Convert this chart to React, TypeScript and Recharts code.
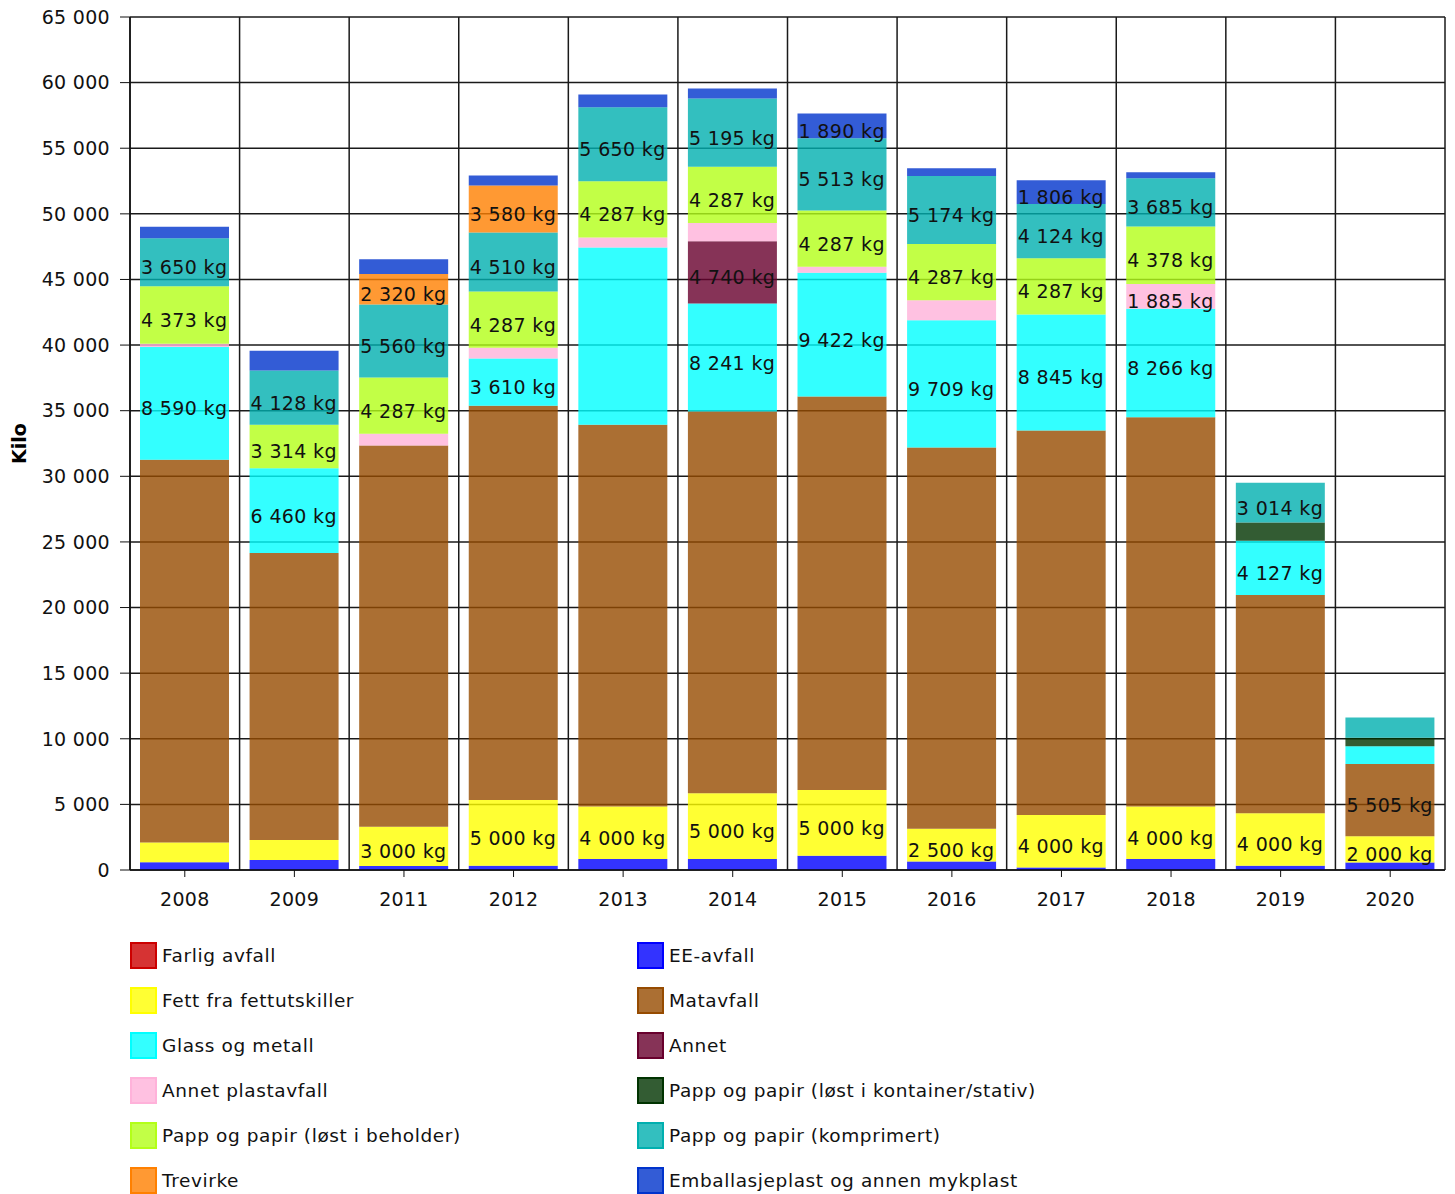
import { BarChart, Bar, XAxis, YAxis, CartesianGrid, LabelList } from 'recharts'

const years = ['2008', '2009', '2011', '2012', '2013', '2014', '2015', '2016', '2017', '2018', '2019', '2020']

// values in kg, bottom of stack first
const farligAvfall = [0, 0, 0, 0, 0, 0, 0, 0, 0, 0, 0, 0]
const eeAvfall = [600, 760, 300, 330, 840, 840, 1090, 640, 200, 840, 330, 580]
const fett = [1500, 1520, 3000, 5000, 4000, 5000, 5000, 2500, 4000, 4000, 4000, 2000]
const matavfall = [29170, 21880, 29040, 30040, 29080, 29090, 29990, 29050, 29290, 29660, 16630, 5505]
const glassMetall = [8590, 6460, 0, 3610, 13510, 8241, 9422, 9709, 8845, 8266, 4127, 1350]
const annet = [0, 0, 0, 0, 0, 4740, 0, 0, 0, 0, 0, 0]
const annetPlast = [250, 0, 900, 810, 760, 1400, 460, 1525, 0, 1885, 0, 0]
const pappKontainer = [0, 0, 0, 0, 0, 0, 0, 0, 0, 0, 1400, 635]
const pappBeholder = [4373, 3314, 4287, 4287, 4287, 4287, 4287, 4287, 4287, 4378, 0, 0]
const pappKomprimert = [3650, 4128, 5560, 4510, 5650, 5195, 5513, 5174, 4124, 3685, 3014, 1550]
const trevirke = [0, 0, 2320, 3580, 0, 0, 0, 0, 0, 0, 0, 0]
const emballasjeplast = [890, 1500, 1140, 760, 960, 760, 1890, 585, 1806, 460, 0, 0]

const yTicks = [0, 5000, 10000, 15000, 20000, 25000, 30000, 35000, 40000, 45000, 50000, 55000, 60000, 65000]

const series = [
  { key: 'farlig', name: 'Farlig avfall', color: '#CC0000', values: farligAvfall },
  { key: 'ee', name: 'EE-avfall', color: '#0000FF', values: eeAvfall },
  { key: 'fett', name: 'Fett fra fettutskiller', color: '#FFFF00', values: fett },
  { key: 'mat', name: 'Matavfall', color: '#964B00', values: matavfall },
  { key: 'glass', name: 'Glass og metall', color: '#00FFFF', values: glassMetall },
  { key: 'annet', name: 'Annet', color: '#68002D', values: annet },
  { key: 'plast', name: 'Annet plastavfall', color: '#FFB2DA', values: annetPlast },
  { key: 'kontainer', name: 'Papp og papir (løst i kontainer/stativ)', color: '#003300', values: pappKontainer },
  { key: 'beholder', name: 'Papp og papir (løst i beholder)', color: '#B3FF18', values: pappBeholder },
  { key: 'komprimert', name: 'Papp og papir (komprimert)', color: '#00AFAF', values: pappKomprimert },
  { key: 'trevirke', name: 'Trevirke', color: '#FF8000', values: trevirke },
  { key: 'emballasje', name: 'Emballasjeplast og annen mykplast', color: '#0033CC', values: emballasjeplast },
]

const data = years.map((year, i) => {
  const row: Record<string, string | number> = { year }
  series.forEach((s) => {
    row[s.key] = s.values[i]
  })
  return row
})

const FONT = '"DejaVu Sans", Verdana, sans-serif'

const fmt = (v: number) => String(v).replace(/\B(?=(\d{3})+(?!\d))/g, ' ')

const rgba = (hex: string, a: number) => {
  const n = parseInt(hex.slice(1), 16)
  return `rgba(${(n >> 16) & 255}, ${(n >> 8) & 255}, ${n & 255}, ${a})`
}

const renderLabel = (props: any) => {
  const { x, y, width, height, value } = props
  if (value == null || value < 1800 || value >= 10000) return null
  const top = Math.min(y, y + height)
  const h = Math.abs(height)
  return (
    <text
      x={x + 1}
      y={top + h / 2 + 12}
      fontSize={19}
      fontFamily={FONT}
      letterSpacing={0.35}
      fill="#111"
    >
      {fmt(value)} kg
    </text>
  )
}

function Legend() {
  // two columns, filled row by row
  return (
    <>
      {series.map((s, i) => {
        const col = i % 2
        const row = Math.floor(i / 2)
        return (
          <div
            key={s.key}
            style={{
              position: 'absolute',
              left: col === 0 ? 130 : 637,
              top: 942 + row * 45,
              display: 'flex',
              alignItems: 'center',
              fontFamily: FONT,
              fontSize: 18.5,
              letterSpacing: 0.6,
              color: '#111',
              whiteSpace: 'nowrap',
            }}
          >
            <span
              style={{
                width: 23,
                height: 23,
                border: `2px solid ${s.color}`,
                background: rgba(s.color, 0.8),
                display: 'inline-block',
                marginRight: 5,
              }}
            />
            {s.name}
          </div>
        )
      })}
    </>
  )
}

export default function App() {
  return (
    <div style={{ position: 'absolute', left: 0, top: 0, width: 1455, height: 1194, background: '#fff' }}>
      <BarChart
        width={1455}
        height={920}
        data={data}
        margin={{ top: 17, right: 10, left: 0, bottom: 0 }}
        barSize={89}
      >
        <CartesianGrid
          stroke="#1a1a1a"
          strokeWidth={1.5}
          verticalCoordinatesGenerator={({ offset }: any) =>
            years.map((_, i) => offset.left + (i * offset.width) / years.length).concat(offset.left + offset.width)
          }
        />
        <XAxis
          dataKey="year"
          height={50}
          tickSize={7}
          tickMargin={16}
          axisLine={{ stroke: '#111', strokeWidth: 1.5 }}
          tickLine={{ stroke: '#111' }}
          tick={{ fontSize: 19, fontFamily: FONT, fill: '#111', letterSpacing: 0.3 }}
        />
        <YAxis
          width={130}
          domain={[0, 65000]}
          ticks={yTicks}
          interval={0}
          tickSize={10}
          tickMargin={10}
          tickFormatter={fmt}
          axisLine={{ stroke: '#111', strokeWidth: 1.5 }}
          tickLine={{ stroke: '#111' }}
          tick={{ fontSize: 19, fontFamily: FONT, fill: '#111', letterSpacing: 0.3 }}
          label={{
            value: 'Kilo',
            angle: -90,
            position: 'center',
            dx: -46,
            style: { fontWeight: 'bold', fontSize: 19, fontFamily: FONT, fill: '#000', textAnchor: 'middle' },
          }}
        />
        {series.map((s) => (
          <Bar
            key={s.key}
            dataKey={s.key}
            name={s.name}
            stackId="a"
            fill={s.color}
            fillOpacity={0.8}
            isAnimationActive={false}
          >
            <LabelList dataKey={s.key} content={renderLabel} />
          </Bar>
        ))}
      </BarChart>
      <Legend />
    </div>
  )
}
